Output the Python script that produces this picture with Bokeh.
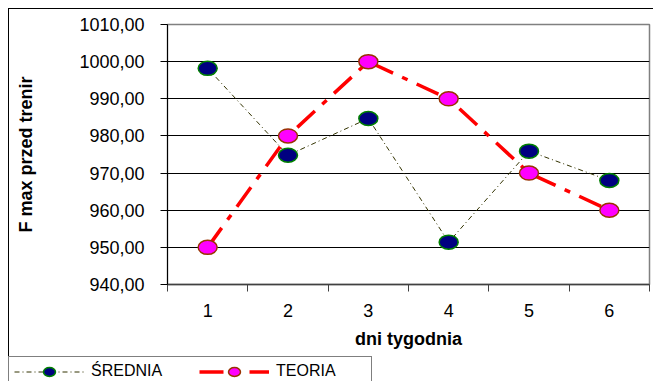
from bokeh.plotting import figure
from bokeh.layouts import column, row
from bokeh.models import (Range1d, FixedTicker, Legend, LegendItem, ColumnDataSource)
from bokeh.embed import file_html
from bokeh.resources import INLINE

days = [1, 2, 3, 4, 5, 6]
day_labels = ["1", "2", "3", "4", "5", "6"]
srednia = [998.2, 974.8, 984.7, 951.4, 975.9, 968.0]
teoria = [950.0, 980.0, 1000.0, 990.0, 970.0, 960.0]
y_ticks = [940, 950, 960, 970, 980, 990, 1000, 1010]
y_tick_labels = ["940,00", "950,00", "960,00", "970,00", "980,00", "990,00", "1000,00", "1010,00"]
x_title = "dni tygodnia"
y_title = "F max przed trenir"
series_names = ["ŚREDNIA", "TEORIA"]

FONT = "Liberation Sans"

p = figure(width=645, height=348, output_backend="svg", toolbar_location=None,
           x_range=Range1d(0.5, 6.5), y_range=Range1d(940, 1010),
           min_border_left=158, min_border_right=5, min_border_top=15, min_border_bottom=73)
p.margin = (8, 0, 0, 8)
p.styles = {"border-top": "1px solid #000000", "border-left": "1px solid #000000"}
p.background_fill_color = "white"
p.border_fill_color = "white"
p.outline_line_color = "#808080"
p.outline_line_width = 1.5

# grid
p.xgrid.grid_line_color = None
p.ygrid.ticker = FixedTicker(ticks=y_ticks)
p.ygrid.grid_line_color = "#000000"
p.ygrid.grid_line_width = 1

# y axis
ya = p.yaxis[0]
ya.ticker = FixedTicker(ticks=y_ticks)
ya.major_label_overrides = {t: l for t, l in zip(y_ticks, y_tick_labels)}
ya.major_tick_out = 7
ya.major_tick_in = 0
ya.minor_tick_line_color = None
ya.axis_line_color = "#000000"
ya.major_tick_line_color = "#000000"
ya.major_label_text_font = FONT
ya.major_label_text_font_size = "18px"
ya.major_label_text_color = "#000000"
ya.major_label_standoff = 16
ya.axis_label = y_title
ya.axis_label_text_font = FONT
ya.axis_label_text_font_size = "18px"
ya.axis_label_text_font_style = "bold"
ya.axis_label_text_color = "#000000"
ya.axis_label_standoff = 40

# x axis
xa = p.xaxis[0]
xa.ticker = FixedTicker(ticks=days, minor_ticks=[0.5, 1.5, 2.5, 3.5, 4.5, 5.5, 6.5])
xa.major_label_overrides = {d: l for d, l in zip(days, day_labels)}
xa.major_tick_line_color = None
xa.major_tick_out = 7
xa.minor_tick_out = 7
xa.minor_tick_in = 0
xa.minor_tick_line_color = "#404040"
xa.axis_line_color = "#404040"
xa.axis_line_width = 1.5
xa.major_label_text_font = FONT
xa.major_label_text_font_size = "18px"
xa.major_label_text_color = "#000000"
xa.major_label_standoff = 12
xa.axis_label = x_title
xa.axis_label_text_font = FONT
xa.axis_label_text_font_size = "18px"
xa.axis_label_text_font_style = "bold"
xa.axis_label_text_color = "#000000"
xa.axis_label_standoff = 9

src_s = ColumnDataSource(dict(x=days, y=srednia))
src_t = ColumnDataSource(dict(x=days, y=teoria))

style_s_line = dict(line_color="#333300", line_width=1, line_dash="5 3 1 3")
style_s_mark = dict(width=19, height=14, width_units="screen", height_units="screen",
                    fill_color="#000080", line_color="#008000", line_width=1.5)
style_t_line = dict(line_color="#FF0000", line_width=3.5, line_dash="24 10 6 10")
style_t_mark = dict(width=19, height=14, width_units="screen", height_units="screen",
                    fill_color="#FF00FF", line_color="#993300", line_width=1.5)

p.line("x", "y", source=src_s, **style_s_line)
p.ellipse("x", "y", source=src_s, **style_s_mark)
p.line("x", "y", source=src_t, **style_t_line)
p.ellipse("x", "y", source=src_t, **style_t_mark)

# legend strip (separate figure so the legend can sit at the chart's left edge)
lf = figure(width=654, height=25, output_backend="svg", toolbar_location=None,
            x_range=Range1d(0, 1), y_range=Range1d(0, 1),
            x_axis_location=None, y_axis_location=None,
            min_border_left=0, min_border_right=0, min_border_top=0, min_border_bottom=0)
lf.grid.visible = False
lf.outline_line_color = None
lf.background_fill_color = "white"
lf.border_fill_color = "white"
ll1 = lf.line("x", "y", source=src_s, **style_s_line)
le1 = lf.ellipse("x", "y", source=src_s, **style_s_mark)
ll2 = lf.line("x", "y", source=src_t, **style_t_line)
le2 = lf.ellipse("x", "y", source=src_t, **style_t_mark)

legend = Legend(items=[LegendItem(label=series_names[0], renderers=[ll1, le1]),
                       LegendItem(label=series_names[1], renderers=[ll2, le2])],
                orientation="horizontal", location=(8, -5),
                glyph_width=70, glyph_height=15, label_standoff=7, label_width=90,
                spacing=18, padding=5, margin=0,
                border_line_color="#000000", border_line_width=1,
                background_fill_color="white", background_fill_alpha=1,
                label_text_font=FONT, label_text_font_size="16px", label_text_color="#000000")
lf.add_layout(legend, "center")

layout = column(row(p), row(lf), spacing=0)
open("out.html", "w").write(file_html(layout, INLINE))
